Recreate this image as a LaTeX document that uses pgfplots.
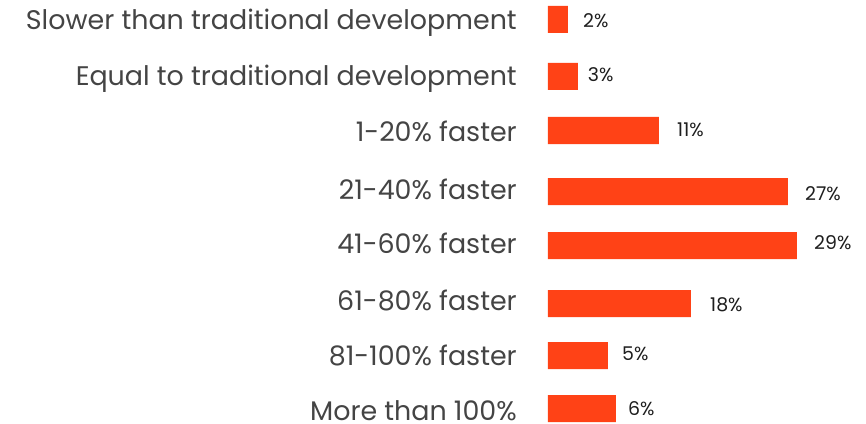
\documentclass[border=0pt]{standalone}
\usepackage{fontspec}
\setmainfont{Poppins}
\usepackage{pgfplots}
\pgfplotsset{compat=1.18}
\definecolor{barcol}{RGB}{255,66,22}
\definecolor{labcol}{RGB}{68,68,68}
\definecolor{valcol}{RGB}{30,30,30}
\begin{document}
\begin{tikzpicture}
\useasboundingbox (-548bp,0) rectangle (318bp,424bp);
\begin{axis}[
  scale only axis,
  width=318bp, height=424bp,
  xmin=0, xmax=318, ymin=0, ymax=424,
  y dir=reverse,
  clip=false,
  axis line style={draw=none},
  major tick style={draw=none},
  xtick=\empty,
  ytick={30,86,141.7,199,253.7,310,365,420},
  yticklabels={Slower than traditional development,Equal to traditional development,1-20\% faster,21-40\% faster,41-60\% faster,61-80\% faster,81-100\% faster,More than 100\%},
  yticklabel style={font=\fontsize{27}{32}\selectfont, text=labcol, anchor=base east, inner sep=0pt, xshift=-31bp},
  /pgf/number format/assume math mode=true,
]
\addplot[xbar, bar width=27, bar shift=0pt, fill=barcol, draw=none] coordinates {
  (20,19.5)
  (30,76.5)
  (111,130.5)
  (240,191.5)
  (249,245.5)
  (143,303.5)
  (60,355.5)
  (68,408.5)
};
\addplot[draw=none, mark=none,
  point meta=explicit symbolic,
  nodes near coords,
  nodes near coords style={font=\fontsize{19}{22}\selectfont, text=valcol, anchor=base west, inner sep=0pt},
] coordinates {
  (35,27.3) [2\%]
  (39.7,82) [3\%]
  (129,136.7) [11\%]
  (257,200) [27\%]
  (266,249) [29\%]
  (162,311.7) [18\%]
  (74,360) [5\%]
  (80,415) [6\%]
};
\end{axis}
\end{tikzpicture}
\end{document}
